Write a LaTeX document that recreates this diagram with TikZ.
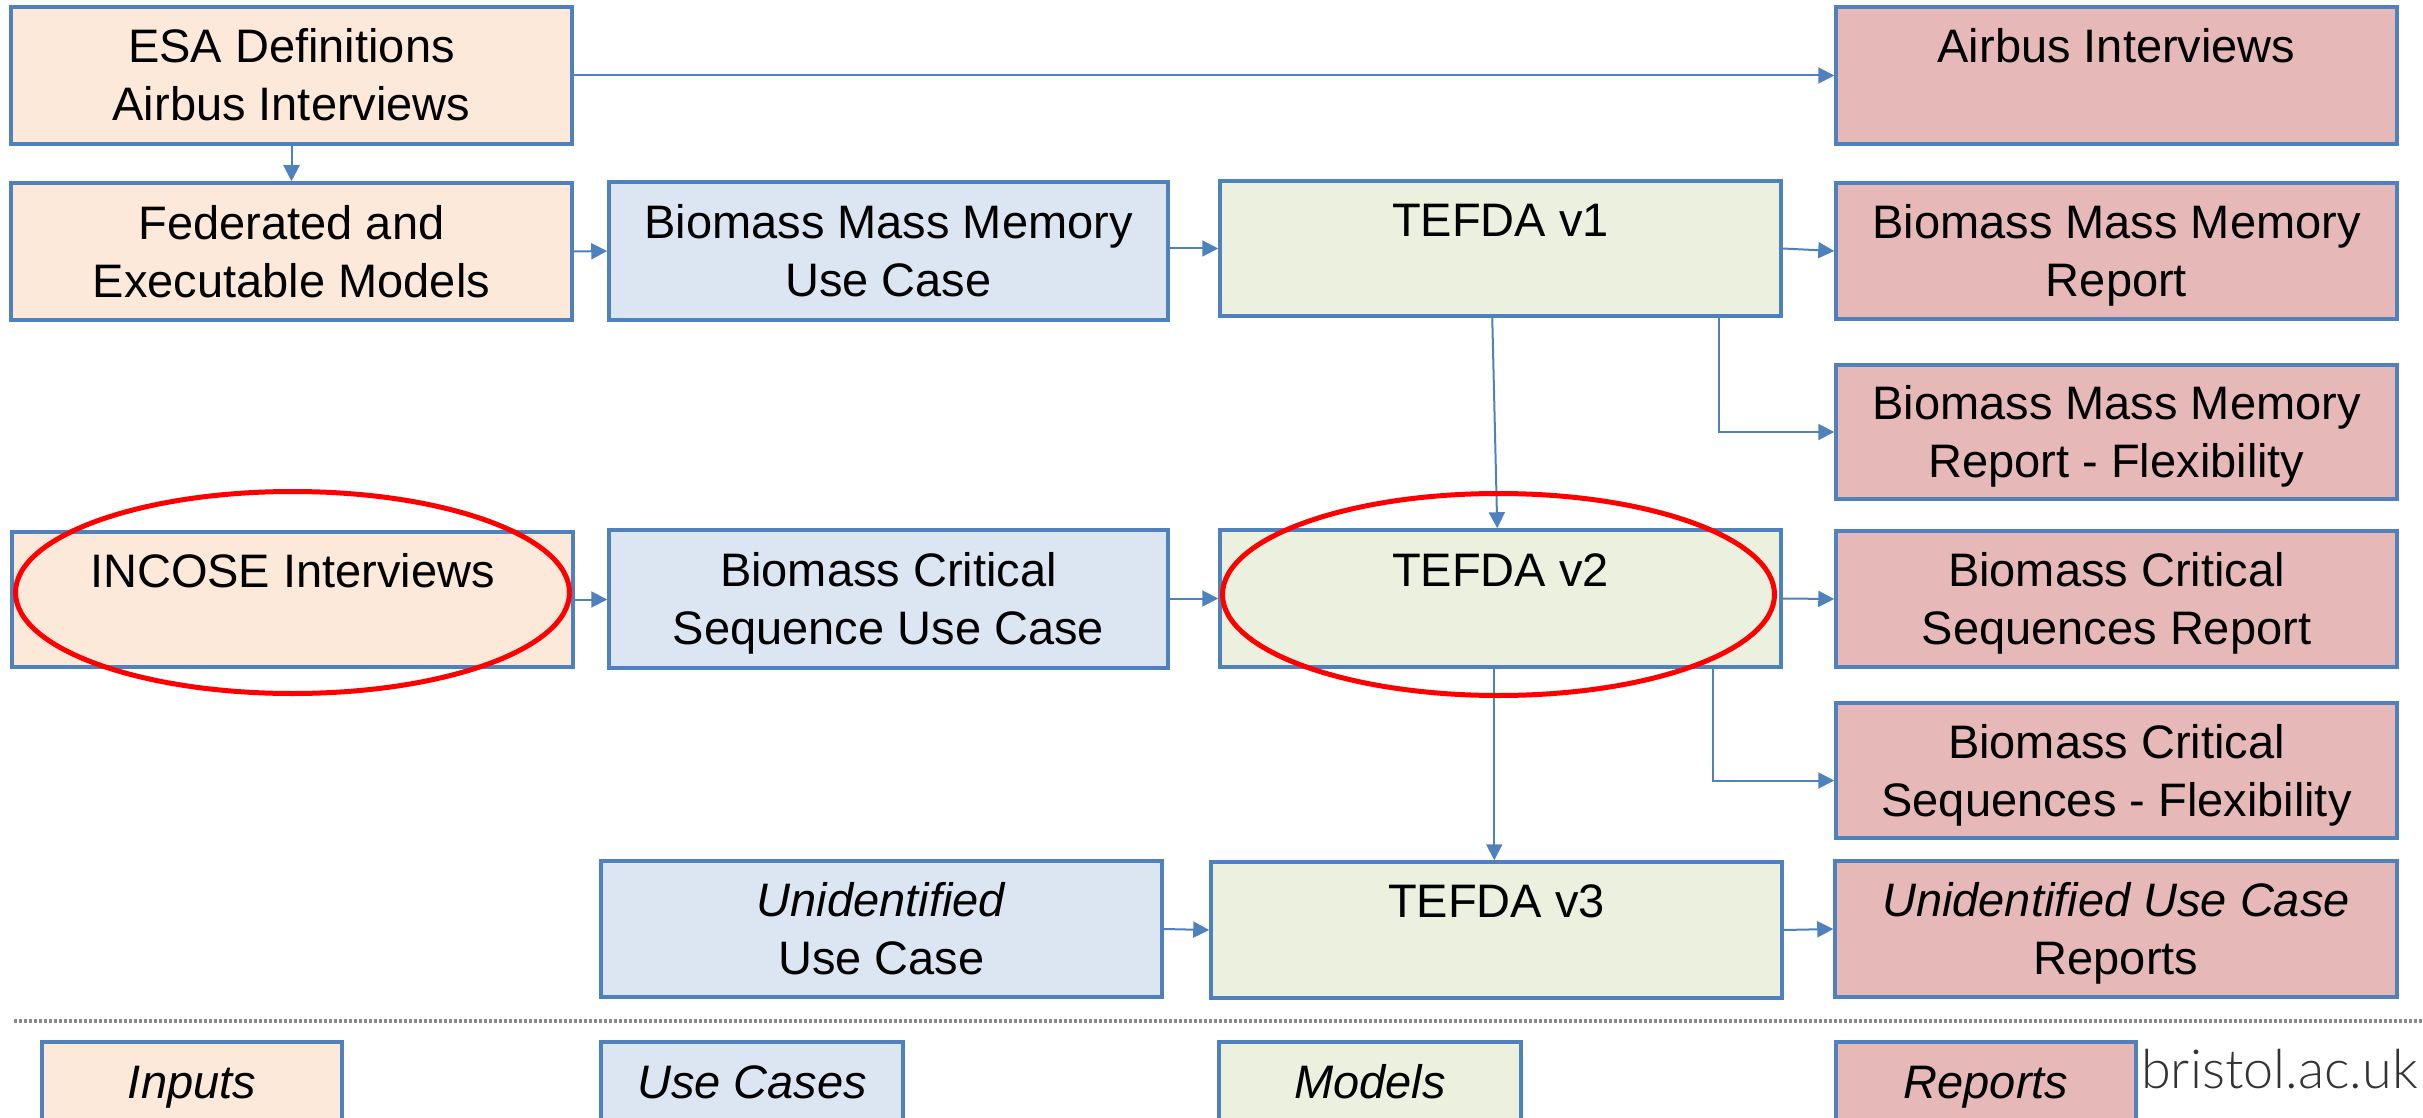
\documentclass[tikz,border=0pt]{standalone}
\usepackage{fontspec}
\setmainfont{Liberation Sans}
\newfontfamily\brfont{Lato Light}
\usetikzlibrary{arrows.meta,calc}
\definecolor{bord}{HTML}{4F81BD}
\definecolor{finp}{HTML}{FDE9D9}
\definecolor{fuse}{HTML}{DCE6F2}
\definecolor{fmod}{HTML}{EBF1DE}
\definecolor{frep}{HTML}{E6B9B8}
\definecolor{dotc}{HTML}{8C8C8C}
\newcommand\bstrut{\rule[-12.5pt]{0pt}{58pt}}
\newcommand\mkbox[7]{\node[#2, minimum width={#5-#3}, minimum height={#6-#4}] (#1) at ({(#3+#5)/2},{(#4+#6)/2}) {#7};}
\begin{document}
\begin{tikzpicture}[x=1pt,y=-1pt,
  box/.style={draw=bord, line width=3.5pt, inner sep=0pt, align=center, font=\fontsize{47}{58}\selectfont},
  inbox/.style={box, fill=finp},
  ucbox/.style={box, fill=fuse},
  modbox/.style={box, fill=fmod},
  repbox/.style={box, fill=frep},
  conn/.style={draw=bord, line width=2pt, -{Triangle[length=16pt,width=16pt]}},
  hl/.style={draw=red, line width=5pt},
  sepline/.style={draw=dotc, line width=4pt, dash pattern=on 3pt off 2pt}]
\fill[white] (0,0) rectangle (2423,1118);
\useasboundingbox (0,0) rectangle (2423,1118);
\clip (0,0) rectangle (2423,1118);

% row 1
\mkbox{esa}{inbox}{11}{7}{572}{144}{\bstrut ESA Definitions\\\bstrut Airbus Interviews}
\mkbox{air}{repbox}{1836}{7}{2397}{144}{\bstrut Airbus Interviews\\\bstrut}
% row 2
\mkbox{fed}{inbox}{11}{183}{572}{320}{\bstrut Federated and\\\bstrut Executable Models}
\mkbox{uc1}{ucbox}{609}{182}{1168}{320}{\bstrut Biomass Mass Memory\\\bstrut Use Case}
\mkbox{v1}{modbox}{1220}{181}{1781}{316}{\bstrut TEFDA v1\\\bstrut}
\mkbox{rep1}{repbox}{1836}{183}{2397}{319}{\bstrut Biomass Mass Memory\\\bstrut Report}
\mkbox{rep2}{repbox}{1836}{365}{2397}{499}{\bstrut Biomass Mass Memory\\\bstrut Report - Flexibility}
% row 3
\mkbox{inc}{inbox}{12}{532}{573}{667}{\bstrut INCOSE Interviews\\\bstrut}
\mkbox{uc2}{ucbox}{609}{530}{1168}{668}{\bstrut Biomass Critical\\\bstrut Sequence Use Case}
\mkbox{v2}{modbox}{1220}{530}{1781}{667}{\bstrut TEFDA v2\\\bstrut}
\mkbox{rep3}{repbox}{1836}{531}{2397}{667}{\bstrut Biomass Critical\\\bstrut Sequences Report}
\mkbox{rep4}{repbox}{1836}{703}{2397}{838}{\bstrut Biomass Critical\\\bstrut Sequences - Flexibility}
% row 4
\mkbox{uc3}{ucbox}{601}{861}{1162}{997}{\bstrut\textit{Unidentified}\\\bstrut Use Case}
\mkbox{v3}{modbox}{1211}{862}{1782}{998}{\bstrut TEFDA v3\\\bstrut}
\mkbox{rep5}{repbox}{1835}{861}{2397}{997}{\bstrut\textit{Unidentified Use Case}\\\bstrut Reports}

% legend
\coordinate (sepL) at (14,1021);
\coordinate (sepR) at (2423,1021);
\draw[sepline] (sepL) -- (sepR);
\mkbox{lin}{inbox}{42}{1042}{342}{1179}{\bstrut\textit{Inputs}\\\bstrut}
\mkbox{luc}{ucbox}{601}{1042}{903}{1179}{\bstrut\textit{Use Cases}\\\bstrut}
\mkbox{lmod}{modbox}{1219}{1042}{1521}{1179}{\bstrut\textit{Models}\\\bstrut}
\mkbox{lrep}{repbox}{1836}{1042}{2136}{1179}{\bstrut\textit{Reports}\\\bstrut}
\node[font=\brfont\fontsize{54}{60}\selectfont, text=black!80, anchor=base west, inner sep=0pt] (bristol) at (2141,1088) {bristol.ac.uk};

% connectors
\draw[conn] (esa.east) -- (air.west);
\draw[conn] (esa.south) -- (fed.north);
\draw[conn] (fed.east) -- (uc1.west);
\draw[conn] (uc1.east |- v1.west) -- (v1.west);
\draw[conn] (v1.east) -- (rep1.west);
\draw[conn] ($(v1.south west)+(274,0)$) -- ($(v2.north west)+(279,0)$);
\draw[conn] ($(v1.south west)+(501,0)$) |- (rep2.west);
\draw[conn] (inc.east) -- (uc2.west |- inc.east);
\draw[conn] (uc2.east |- v2.west) -- (v2.west);
\draw[conn] (v2.east) -- (rep3.west);
\draw[conn] ($(v2.south west)+(276,0)$) -- ($(v3.north west)+(285,0)$);
\draw[conn] ($(v2.south west)+(495,0)$) |- ($(rep4.west)+(0,10)$);
\draw[conn] (uc3.east) -- (v3.west);
\draw[conn] (v3.east) -- (rep5.west);

% highlights
\draw[hl] ($(inc.center)+(0,-7)$) ellipse [x radius=277pt, y radius=101pt];
\draw[hl] ($(v2.center)+(-2,-4)$) ellipse [x radius=276pt, y radius=101pt];
\end{tikzpicture}
\end{document}
